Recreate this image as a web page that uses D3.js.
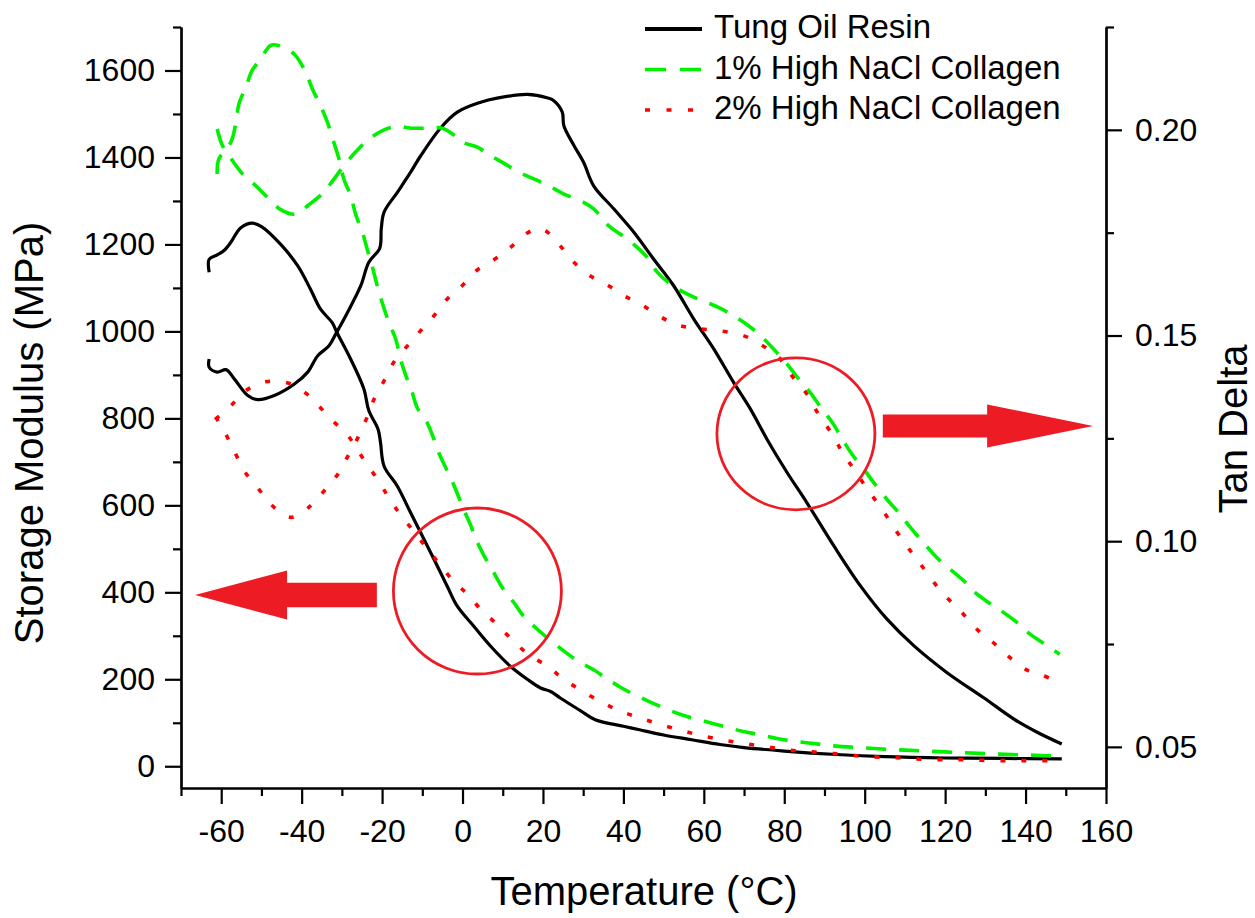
<!DOCTYPE html>
<html>
<head>
<meta charset="utf-8">
<script src="https://cdn.jsdelivr.net/npm/d3@7"></script>
<style>
  html, body { margin: 0; padding: 0; background: #fff; }
  svg { display: block; font-family: "Liberation Sans", Arial, sans-serif; }
</style>
</head>
<body>
<svg id="chart" width="1255" height="918"></svg>
<script>
// Temperature (°C) paired with storage modulus (MPa) or tan delta, per sample.
const tungModulus = [
  [-63,1136],[-63,1166],[-61,1176],[-59.3,1186],[-57.6,1205],[-55.2,1238],[-52.3,1249],[-49.8,1240],
  [-45.2,1200],[-41,1151],[-37.8,1097],[-35.3,1051],[-32.4,1020],[-31.2,997],[-27.8,936],[-24.5,867],
  [-23.3,818],[-21,775],[-20.4,745],[-19.5,690],[-16.2,644],[-12.9,583],[-10.4,537],[-7.1,476],
  [-3.8,414],[-1.3,368],[2.8,322],[7,276],[11.9,230],[16.1,200],[19.4,180],[21.9,172],[24.3,157],
  [29.3,128],[33,107],[40,92],[44,84],[50,72],[57,61],[64,50],[70,43],[80,35],[93,27],[105,22],
  [120,19],[135,18],[149,17]
];
const tungTanDelta = [
  [-63,0.1443],[-63,0.1423],[-61,0.1411],[-58.8,0.1417],[-56.7,0.1394],[-53.4,0.1354],[-50.9,0.1344],
  [-46.8,0.1354],[-41.8,0.1382],[-38.5,0.1411],[-36,0.1451],[-33.2,0.1475],[-31.5,0.1504],[-28.6,0.1556],
  [-25.3,0.1621],[-23.3,0.1678],[-20.6,0.1712],[-20.2,0.1760],[-19.5,0.1800],[-16.2,0.1848],[-12.9,0.1897],
  [-10.4,0.1937],[-5.5,0.2004],[-1.3,0.2043],[4.5,0.2067],[8.6,0.2077],[16.1,0.2086],[21,0.2078],
  [22.7,0.2071],[24.8,0.2043],[25.2,0.2010],[27.7,0.1962],[30.1,0.1921],[32.6,0.1864],[37.6,0.1808],
  [42.6,0.1751],[47.5,0.1686],[52.5,0.1621],[57.5,0.1540],[62.5,0.1467],[67.4,0.1386],[71.6,0.1321],
  [75.7,0.1248],[80.7,0.1167],[85.6,0.1094],[92.3,0.0989],[98.9,0.0892],[105.5,0.0811],[112.2,0.0746],
  [120.4,0.0681],[129.5,0.0620],[137.2,0.0567],[143,0.0535],[149,0.0507]
];
const nacl1Modulus = [
  [-61,1362],[-60.6,1396],[-57.6,1435],[-56.4,1477],[-55.6,1523],[-53.9,1561],[-52.3,1600],[-50.2,1626],
  [-47.7,1658],[-45.6,1657],[-41.9,1638],[-39,1596],[-37.3,1557],[-35.3,1519],[-33.6,1481],[-32,1435],
  [-30.7,1396],[-29.5,1350],[-27.8,1312],[-26.6,1270],[-24.9,1228],[-23.7,1189],[-22.5,1151],[-21.2,1105],
  [-20,1067],[-18.3,1020],[-16.6,982],[-15.4,936],[-14.2,901],[-12.5,859],[-11.3,825],[-8.8,790],
  [-7.1,752],[-5.9,721],[-4.2,687],[-2.6,656],[-0.9,618],[0.3,590],[2,555],[3.2,525],[5.3,485],
  [7.8,445],[9.9,411],[12.8,376],[15.2,345],[18.6,315],[21,296],[25.2,265],[29,240],[32.6,222],
  [35.6,203],[39.6,180],[42.7,165],[47.1,146],[51.1,130],[55.6,115],[60,104],[64.9,92],[69.3,81],
  [73.7,73],[78.2,64],[83,57],[87.5,52],[92,47],[100,42],[110,37],[120,33],[130,29],[140,26],[149,23]
];
const nacl1TanDelta = [
  [-61,0.2002],[-59.7,0.1962],[-57.2,0.1925],[-54.7,0.1893],[-51.4,0.1864],[-48.5,0.1836],[-45.2,0.1806],
  [-41.5,0.1795],[-38.2,0.1818],[-34.5,0.1848],[-32.3,0.1876],[-29.8,0.1909],[-26.6,0.1946],[-23.7,0.1974],
  [-19.5,0.2000],[-16.2,0.2008],[-12.9,0.2004],[-8.7,0.2004],[-5,0.2004],[-1.7,0.1984],[0,0.1970],
  [3.7,0.1958],[7,0.1937],[9.9,0.1921],[14,0.1897],[17.7,0.1881],[21.4,0.1864],[25.2,0.1844],
  [29.3,0.1828],[32.6,0.1808],[36.3,0.1767],[39.7,0.1743],[43,0.1718],[45.9,0.1690],[48.4,0.1654],
  [51.7,0.1625],[55.8,0.1601],[59.5,0.1585],[63.5,0.1569],[67.4,0.1548],[71.6,0.1520],[74.5,0.1496],
  [78.1,0.1459],[81,0.1427],[83.6,0.1394],[86.1,0.1366],[89.4,0.1321],[91.9,0.1289],[94.7,0.1244],
  [96.8,0.1212],[100.1,0.1171],[102.2,0.1143],[105.5,0.1102],[108.4,0.1070],[111.3,0.1034],[116.7,0.0973],
  [118.8,0.0952],[124.6,0.0904],[127.5,0.0875],[130.8,0.0851],[134.5,0.0827],[137.8,0.0803],
  [141.1,0.0774],[144.8,0.0750],[148.5,0.0725]
];
const nacl2Modulus = [
  [-61.4,798],[-57.6,829],[-54.3,861],[-49,884],[-43.6,882],[-39,858],[-35.7,828],[-32,792],
  [-28.6,762],[-26.2,728],[-23.7,694],[-20.8,655],[-18.3,617],[-15.4,578],[-12.1,540],[-9.2,505],
  [-5.9,467],[-2.2,425],[1.2,396],[4.5,361],[8.6,326],[11.9,295],[16.5,256],[21,231],[24.8,203],
  [29.7,173],[34.7,147],[39.2,127],[43.6,113],[48.5,98],[53.8,84],[59.1,71],[64.9,60],[70.2,52],
  [76,44],[81.3,37],[87,33],[92.4,29],[98.1,24],[103.5,21],[109.2,19],[114.5,16],[120.3,15],
  [125.6,15],[131.4,13],[137.1,13],[142.5,13],[148.7,13]
];
const nacl2TanDelta = [
  [-61.4,0.1302],[-59.3,0.1268],[-56.8,0.1220],[-54.3,0.1171],[-51,0.1131],[-47.7,0.1090],[-42.7,0.1058],
  [-37.8,0.1086],[-34,0.1127],[-31,0.1163],[-28.6,0.1205],[-26.2,0.1248],[-24,0.1295],[-22,0.1345],
  [-19.5,0.1390],[-17.1,0.1435],[-13.7,0.1475],[-10.4,0.1512],[-7.1,0.1548],[-3.8,0.1589],[-0.1,0.1621],
  [3.5,0.1658],[7.8,0.1684],[11.9,0.1714],[16.1,0.1749],[18.5,0.1760],[20.6,0.1755],[24.3,0.1718],
  [27.7,0.1678],[32.2,0.1642],[36.3,0.1621],[40.1,0.1597],[44.2,0.1577],[48.8,0.1548],[53.3,0.1526],
  [58.3,0.1517],[63.3,0.1512],[69.5,0.1501],[74,0.1479],[78.6,0.1447],[81.9,0.1402],[85.6,0.1358],
  [88.5,0.1309],[91.9,0.1260],[94.7,0.1212],[97.6,0.1171],[100.9,0.1123],[104.3,0.1078],[107.2,0.1034],
  [110.4,0.0989],[113.3,0.0952],[117.5,0.0896],[121.2,0.0855],[124.5,0.0823],[128.3,0.0782],
  [132.4,0.0750],[136.6,0.0713],[140.7,0.0685],[144.4,0.0673],[149.3,0.0653]
];

// Axis ticks
const xMajor = [-60,-40,-20,0,20,40,60,80,100,120,140,160];
const xMinor = [-70,-50,-30,-10,10,30,50,70,90,110,130,150];
const modMajor = [0,200,400,600,800,1000,1200,1400,1600];
const modMinor = [100,300,500,700,900,1100,1300,1500,1700];
const tanMajor = [0.05,0.10,0.15,0.20];
const tanMinor = [0.075,0.125,0.175,0.225];

// Legend entries
const seriesNames = ["Tung Oil Resin","1% High NaCl Collagen","2% High NaCl Collagen"];
const seriesColors = ["#000000","#00f000","#ff0000"];
const seriesDash = [null,"20,13","5,16"];

// Callouts: circled regions and arrows pointing to the axis each group belongs to
const modulusCallout = { t: 3.7, value: 403, arrowFrom: -21.3, arrowTo: -66.5 };
const tanCallout = { t: 82.9, value: 0.1261, arrowFrom: 104.5, arrowTo: 156.8, arrowValue: 0.128 };

const svg = d3.select("#chart");
const plotLeft = 181, plotRight = 1106, plotTop = 27, plotBottom = 788;

const x = d3.scaleLinear().domain([-70,160]).range([plotLeft,plotRight]);
const yMod = d3.scaleLinear().domain([-50,1700]).range([plotBottom,plotTop]);
const yTan = d3.scaleLinear().domain([0.04,0.225]).range([plotBottom,plotTop]);

const fmtInt = d => String(d);
const fmtTan = d3.format(".2f");

function styleAxis(g, fontSize) {
  g.selectAll("path.domain").attr("stroke","#000").attr("stroke-width",2.2);
  g.selectAll(".tick line").attr("stroke","#000").attr("stroke-width",2.2);
  g.selectAll(".tick text").attr("fill","#000").style("font-size", fontSize + "px")
    .style("font-family","'Liberation Sans', Arial, sans-serif");
}

// x axis
const gx = svg.append("g").attr("transform",`translate(0,${plotBottom})`);
gx.call(d3.axisBottom(x).tickValues(xMajor).tickFormat(fmtInt).tickSize(16).tickSizeOuter(0).tickPadding(15));
styleAxis(gx, 32);
const gxm = svg.append("g").attr("transform",`translate(0,${plotBottom})`);
gxm.call(d3.axisBottom(x).tickValues(xMinor).tickFormat("").tickSize(8).tickSizeOuter(0));
styleAxis(gxm, 32);

// left axis
const gl = svg.append("g").attr("transform",`translate(${plotLeft},0)`);
gl.call(d3.axisLeft(yMod).tickValues(modMajor).tickFormat(fmtInt).tickSize(16).tickSizeOuter(0).tickPadding(10));
styleAxis(gl, 32);
const glm = svg.append("g").attr("transform",`translate(${plotLeft},0)`);
glm.call(d3.axisLeft(yMod).tickValues(modMinor).tickFormat("").tickSize(8).tickSizeOuter(0));
styleAxis(glm, 32);

// right axis
const gr = svg.append("g").attr("transform",`translate(${plotRight},0)`);
gr.call(d3.axisRight(yTan).tickValues(tanMajor).tickFormat(fmtTan).tickSize(16).tickSizeOuter(0).tickPadding(13));
styleAxis(gr, 32);
const grm = svg.append("g").attr("transform",`translate(${plotRight},0)`);
grm.call(d3.axisRight(yTan).tickValues(tanMinor).tickFormat("").tickSize(8).tickSizeOuter(0));
styleAxis(grm, 32);

// axis titles
svg.append("text").attr("x",644).attr("y",905).attr("text-anchor","middle")
  .style("font-size","40px").text("Temperature (°C)");
svg.append("text").attr("transform","translate(43,433) rotate(-90)").attr("text-anchor","middle")
  .style("font-size","40px").text("Storage Modulus (MPa)");
svg.append("text").attr("transform","translate(1247,429) rotate(-90)").attr("text-anchor","middle")
  .style("font-size","40px").text("Tan Delta");

// curves
const curve = d3.curveCatmullRom.alpha(0.5);
const lineMod = d3.line().x(d => x(d[0])).y(d => yMod(d[1])).curve(curve);
const lineTan = d3.line().x(d => x(d[0])).y(d => yTan(d[1])).curve(curve);

const curves = [
  { data: tungModulus, line: lineMod, s: 0 },
  { data: tungTanDelta, line: lineTan, s: 0 },
  { data: nacl1Modulus, line: lineMod, s: 1 },
  { data: nacl1TanDelta, line: lineTan, s: 1 },
  { data: nacl2Modulus, line: lineMod, s: 2 },
  { data: nacl2TanDelta, line: lineTan, s: 2 }
];
svg.append("g").selectAll("path").data(curves).join("path")
  .attr("d", c => c.line(c.data))
  .attr("fill","none")
  .attr("stroke", c => seriesColors[c.s])
  .attr("stroke-width", c => c.s === 0 ? 3.2 : 3.6)
  .attr("stroke-dasharray", c => seriesDash[c.s])
  .attr("stroke-linejoin","round");

// callouts
const calloutColor = "#ed1c24";
const callouts = svg.append("g");
callouts.append("ellipse")
  .attr("cx", x(modulusCallout.t)).attr("cy", yMod(modulusCallout.value))
  .attr("rx", 84).attr("ry", 83)
  .attr("fill","none").attr("stroke",calloutColor).attr("stroke-width",2.8);
callouts.append("ellipse")
  .attr("cx", x(tanCallout.t)).attr("cy", yTan(tanCallout.value))
  .attr("rx", 79).attr("ry", 76)
  .attr("fill","none").attr("stroke",calloutColor).attr("stroke-width",2.8);

function arrowPath(x0, x1, yc, shaftHalf, headHalf, headLen) {
  const dir = x1 > x0 ? 1 : -1;
  const xb = x1 - dir * headLen;
  return `M${x0},${yc - shaftHalf}L${xb},${yc - shaftHalf}L${xb},${yc - headHalf}L${x1},${yc}` +
         `L${xb},${yc + headHalf}L${xb},${yc + shaftHalf}L${x0},${yc + shaftHalf}Z`;
}
callouts.append("path")
  .attr("d", arrowPath(x(modulusCallout.arrowFrom), x(modulusCallout.arrowTo), yMod(modulusCallout.value) + 4, 12.3, 24.5, 92))
  .attr("fill", calloutColor);
callouts.append("path")
  .attr("d", arrowPath(x(tanCallout.arrowFrom), x(tanCallout.arrowTo), yTan(tanCallout.arrowValue), 11.5, 21.5, 106))
  .attr("fill", calloutColor);

// legend
const legend = svg.append("g");
seriesNames.forEach((name, i) => {
  const ly = 29 + i * 40.5;
  legend.append("line").attr("x1",645).attr("x2",702).attr("y1",ly).attr("y2",ly)
    .attr("stroke", seriesColors[i]).attr("stroke-width", i === 0 ? 3.8 : 3.6)
    .attr("stroke-dasharray", i === 1 ? "21,14" : (i === 2 ? "5,16.5" : null));
  legend.append("text").attr("x",714).attr("y",ly + 9).style("font-size","33px").text(name);
});
</script>
</body>
</html>
